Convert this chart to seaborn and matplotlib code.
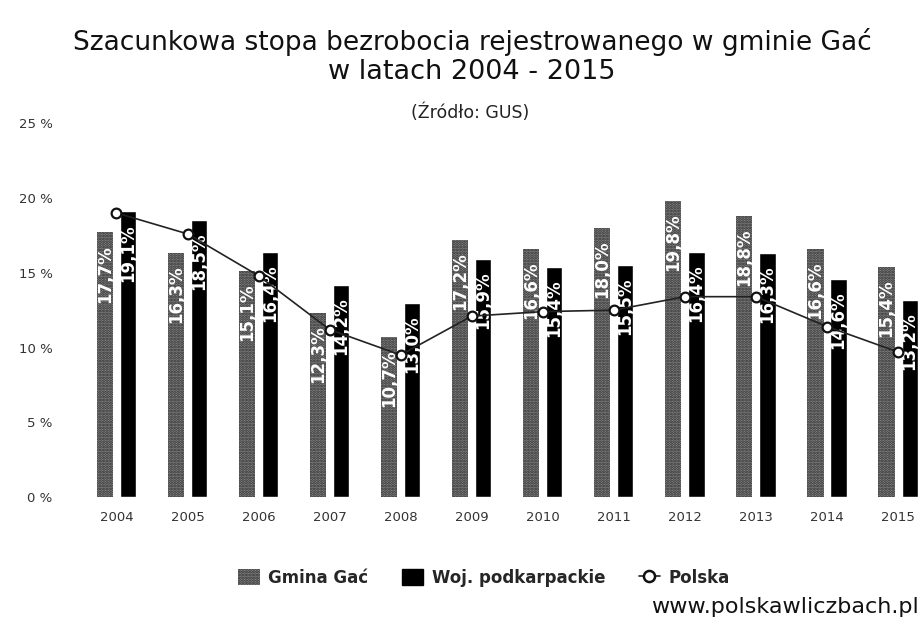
import matplotlib
matplotlib.use("Agg")
import matplotlib.pyplot as plt
import numpy as np
import pandas as pd
import seaborn as sns
from matplotlib.patches import Patch
from matplotlib.lines import Line2D

years = ["2004", "2005", "2006", "2007", "2008", "2009",
         "2010", "2011", "2012", "2013", "2014", "2015"]
gmina_gac = [17.7, 16.3, 15.1, 12.3, 10.7, 17.2, 16.6, 18.0, 19.8, 18.8, 16.6, 15.4]
podkarpackie = [19.1, 18.5, 16.4, 14.2, 13.0, 15.9, 15.4, 15.5, 16.4, 16.3, 14.6, 13.2]
polska = [19.0, 17.6, 14.8, 11.2, 9.5, 12.1, 12.4, 12.5, 13.4, 13.4, 11.4, 9.7]
series_names = ["Gmina Gać", "Woj. podkarpackie", "Polska"]
y_ticks = [0, 5, 10, 15, 20, 25]

bars = pd.DataFrame({
    "rok": years * 2,
    "stopa": gmina_gac + podkarpackie,
    "obszar": [series_names[0]] * len(years) + [series_names[1]] * len(years),
})
line = pd.DataFrame({"rok": years, "stopa": polska})

sns.set_style("white")
plt.rcParams["font.family"] = ["DejaVu Sans"]
plt.rcParams["hatch.linewidth"] = 1.4

fig = plt.figure(figsize=(9.22, 6.24), dpi=100)
ax = fig.add_axes([0.0813, 0.2035, 0.9187, 0.599])

gray = "#8c8c8c"
sns.barplot(data=bars, x="rok", y="stopa", hue="obszar", order=years,
            palette=[gray, "#000000"], width=0.65, gap=0.3, saturation=1,
            legend=False, ax=ax)

# grainy texture on the commune bars
for p in ax.containers[0]:
    p.set_hatch("......")
    p.set_edgecolor("#2a2a2a")
    p.set_linewidth(0)

for cont, vals in zip(ax.containers[:2], [gmina_gac, podkarpackie]):
    for p, v in zip(cont, vals):
        ax.annotate(f"{v:.1f}%".replace(".", ","),
                    (p.get_x() + p.get_width() / 2, v),
                    xytext=(0, -9), textcoords="offset points",
                    rotation=90, ha="center", va="top",
                    color="white", fontsize=12, fontweight="bold")

sns.pointplot(data=line, x="rok", y="stopa", order=years, color="#222222",
              markers="o", linewidth=1.2, markersize=7,
              markerfacecolor="white", markeredgecolor="#111111",
              markeredgewidth=1.6, ax=ax, zorder=5)

ax.set_xlim(-0.584, 11.337)
ax.set_ylim(0, 25)
ax.set_yticks(y_ticks)
ax.set_yticklabels([f"{t} %" for t in y_ticks])
ax.tick_params(axis="both", length=0, labelsize=9.5, colors="#333333")
ax.tick_params(axis="y", pad=16)
ax.tick_params(axis="x", pad=10)
ax.set_xlabel("")
ax.set_ylabel("")
sns.despine(ax=ax, left=True, bottom=True)

fig.text(0.512, 1 - 42 / 624, "Szacunkowa stopa bezrobocia rejestrowanego w gminie Gać",
         ha="center", va="center", fontsize=19, color="#111111")
fig.text(0.512, 1 - 72 / 624, "w latach 2004 - 2015",
         ha="center", va="center", fontsize=19.5, color="#111111")
fig.text(0.51, 1 - 113 / 624, "(Źródło: GUS)", ha="center", va="center",
         fontsize=12.5, color="#222222")

handles = [
    Patch(facecolor=gray, hatch="......", edgecolor="#2a2a2a", linewidth=0),
    Patch(facecolor="black", edgecolor="black"),
    Line2D([0], [0], color="#222222", lw=1.2, marker="o", markersize=8,
           markerfacecolor="white", markeredgecolor="#111111", markeredgewidth=1.8),
]
fig.legend(handles, series_names, loc="center", ncol=3, frameon=False,
           bbox_to_anchor=(0.525, 1 - 578 / 624), prop={"weight": "bold", "size": 12},
           handlelength=1.3, handleheight=1.1, handletextpad=0.5, columnspacing=2.0)

fig.text(919 / 922, 1 - 607 / 624, "www.polskawliczbach.pl", ha="right", va="center",
         fontsize=16, color="#111111")

fig.savefig("out.png", dpi=100)
